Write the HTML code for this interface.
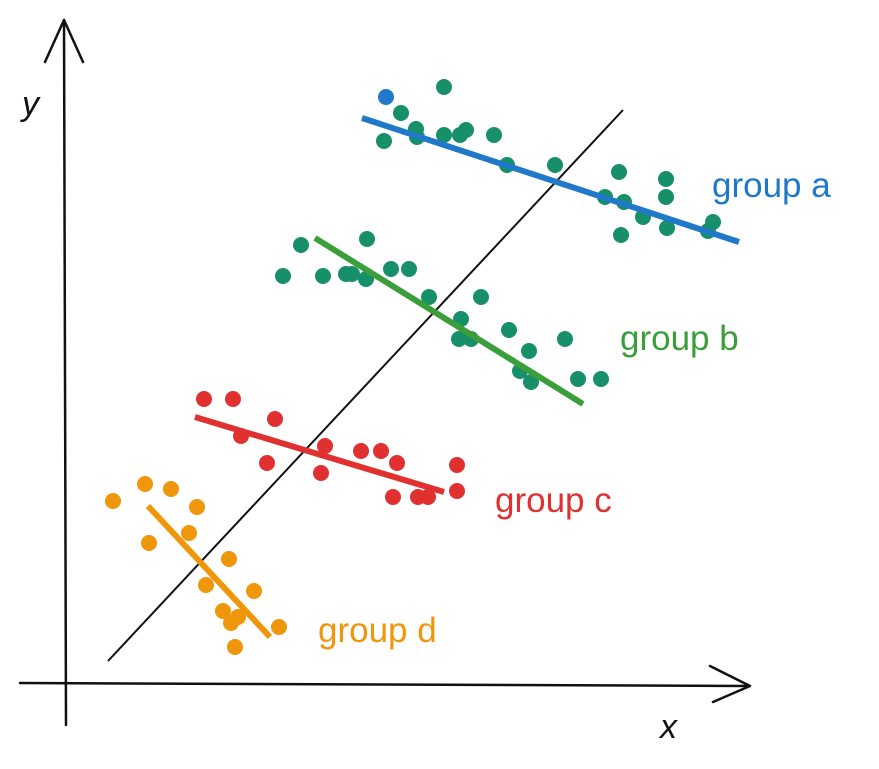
<!DOCTYPE html>
<html>
<head>
<meta charset="utf-8">
<style>
html,body{margin:0;padding:0;background:#fff;}
svg{display:block;}
text{font-family:"Liberation Sans",sans-serif;}
</style>
</head>
<body>
<svg id="chart" width="879" height="769" viewBox="0 0 879 769" xmlns="http://www.w3.org/2000/svg">
  <g fill="none" stroke="#111" stroke-width="2.5" stroke-linecap="round" stroke-linejoin="round">
    <path d="M66 725 L64 20"/>
    <path d="M45 62 L64 20 L83 62"/>
    <path d="M20 683 L750 686"/>
    <path d="M710 666 L750 686 L713 702"/>
  </g>
  <text x="22" y="115" font-size="34" fill="#111" font-style="italic">y</text>
  <text x="660" y="738" font-size="34" fill="#111" font-style="italic">x</text>
  <g id="marks"></g>
</svg>
<script>
// data units: x 0..~135, y 0..~120
const groupNames = ['group a','group b','group c','group d'];
const groupColors = ['#1f78c8','#3a9e3a','#e03030','#f0960a'];
const aX = [64.2,67.2,75.8,70.2,70.4,63.8,75.8,79,80.2,85.8,88.4,98,110.8,120.2,108,111.8,120.2,115.6,111.2,120.4,128.6,129.6];
const aY = [117.2,114,119.2,110.8,109.2,108.4,109.6,109.6,110.6,109.6,103.6,103.6,102.2,100.8,97.2,96.2,97.2,93.2,89.6,91,90.4,92.2];
const bX = [47.2,60.4,43.6,51.6,56.2,57.4,60.2,65.2,68.8,72.8,83.2,79.2,78.8,81.2,88.8,100,92.8,91,93.2,102.6,107.2];
const bY = [87.6,88.8,81.4,81.4,81.8,81.8,80.8,82.8,82.8,77.2,77.2,72.8,68.8,68.8,70.6,68.8,66.4,62.4,60.2,60.8,60.8];
const cX = [27.8,33.6,42,35.2,40.4,52,59.2,63.2,51.2,66.4,78.4,65.6,70.6,72.6,78.4];
const cY = [56.8,56.8,52.8,49.4,44,47.4,46.4,46.4,42,44,43.6,37.2,37.2,37.2,38.4];
const dX = [9.6,16,21.2,26.4,16.8,24.8,32.8,28.2,37.8,31.6,34.6,33.2,42.8,34];
const dY = [36.4,39.8,38.8,35.2,28,30,24.8,19.6,18.4,14.4,13.2,12,11.2,7.2];
const trendX0 = [59.4,50,26,16.6];
const trendY0 = [113,89,53.2,35.4];
const trendX1 = [134.8,103.6,75.8,41];
const trendY1 = [88.2,55.8,38.2,9.2];
const overallX = [8.6,111.6];
const overallY = [4.4,114.6];
const labelX = [129.4,111,86,50.6];
const labelY = [97.2,66.6,34.2,8.2];

const sx = v => 65 + v*5;
const sy = v => 683 - v*5;
const NS = 'http://www.w3.org/2000/svg';
const marks = document.getElementById('marks');
const groupsX = [aX,bX,cX,dX], groupsY = [aY,bY,cY,dY];
const pointColors = ['#17906a','#17906a','#e03030','#f0960a'];

const ov = document.createElementNS(NS,'line');


ov.setAttribute('x1', sx(overallX[0])); ov.setAttribute('y1', sy(overallY[0]));
ov.setAttribute('x2', sx(overallX[1])); ov.setAttribute('y2', sy(overallY[1]));
ov.setAttribute('stroke', '#111'); ov.setAttribute('stroke-width', '2');
marks.appendChild(ov);

for (let g=0; g<4; g++){
  const grp = document.createElementNS(NS,'g');
  
  
  marks.appendChild(grp);
  for (let i=0;i<groupsX[g].length;i++){
    const c = document.createElementNS(NS,'circle');
    
    
    c.setAttribute('cx', sx(groupsX[g][i]));
    c.setAttribute('cy', sy(groupsY[g][i]));
    c.setAttribute('r', 8);
    c.setAttribute('fill', (g===0 && i===0) ? '#1f78c8' : pointColors[g]);
    grp.appendChild(c);
  }
  const ln = document.createElementNS(NS,'line');
  
  
  ln.setAttribute('x1', sx(trendX0[g])); ln.setAttribute('y1', sy(trendY0[g]));
  ln.setAttribute('x2', sx(trendX1[g])); ln.setAttribute('y2', sy(trendY1[g]));
  ln.setAttribute('stroke', groupColors[g]); ln.setAttribute('stroke-width', '6');
  grp.appendChild(ln);
  const t = document.createElementNS(NS,'text');
  
  
  t.setAttribute('x', sx(labelX[g])); t.setAttribute('y', sy(labelY[g]));
  t.setAttribute('font-size', '35');
  t.setAttribute('fill', groupColors[g]);
  t.textContent = groupNames[g];
  grp.appendChild(t);
}
</script>
</body>
</html>
